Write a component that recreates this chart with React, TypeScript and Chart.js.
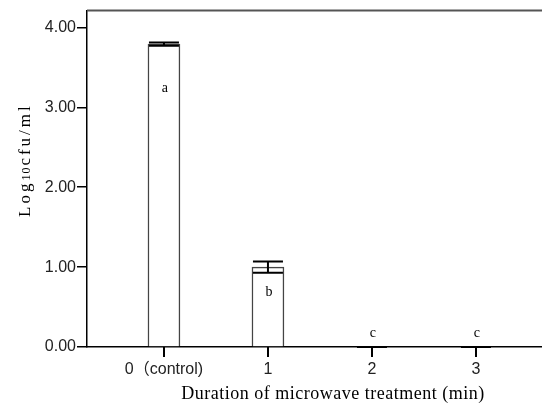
import React, { useEffect, useRef } from 'react';
import { Chart, registerables } from 'chart.js';
Chart.register(...registerables);

const categories = ['0（control)', '1', '2', '3'];
const means = [3.79, 1.0, 0, 0];
const errors = [0.02, 0.07, 0, 0];
const letters = ['a', 'b', 'c', 'c'];
const letterValues = [3.24, 0.69, 0.17, 0.17];
const yTicks = [0, 1, 2, 3, 4];
const xTitle = 'Duration of microwave treatment (min)';
const yTitleParts = ['Log', '10', 'cfu/ml'];

const SANS = '"Liberation Sans", Arial, "Noto Sans CJK SC", sans-serif';
const SERIF = '"Liberation Serif", "Times New Roman", serif';

const decorPlugin = {
  id: 'decor',
  afterDraw(chart: any) {
    const ctx = chart.ctx as CanvasRenderingContext2D;
    const { chartArea } = chart;
    const xs = chart.scales.x;
    const ys = chart.scales.y;
    ctx.save();
    // top frame line
    ctx.strokeStyle = '#555';
    ctx.lineWidth = 2;
    ctx.beginPath();
    ctx.moveTo(chartArea.left, chartArea.top);
    ctx.lineTo(chartArea.right, chartArea.top);
    ctx.stroke();

    // x tick marks
    const y0 = ys.getPixelForValue(0);
    ctx.fillStyle = '#000';
    categories.forEach((_, i) => {
      const x = Math.round(xs.getPixelForValue(i));
      ctx.fillRect(x - 1, y0, 2, 10);
    });

    // error bars
    ctx.strokeStyle = '#000';
    ctx.lineWidth = 2;
    const capHalf = 15;
    means.forEach((m, i) => {
      const x = xs.getPixelForValue(i);
      const yHi = ys.getPixelForValue(m + errors[i]);
      const yLo = ys.getPixelForValue(Math.max(0, m - errors[i]));
      ctx.beginPath();
      ctx.moveTo(x, yHi);
      ctx.lineTo(x, yLo);
      ctx.moveTo(x - capHalf, yHi);
      ctx.lineTo(x + capHalf, yHi);
      ctx.moveTo(x - capHalf, yLo);
      ctx.lineTo(x + capHalf, yLo);
      ctx.stroke();
    });

    // significance letters
    ctx.fillStyle = '#000';
    ctx.font = `14px ${SERIF}`;
    ctx.textAlign = 'center';
    ctx.textBaseline = 'middle';
    letters.forEach((l, i) => {
      ctx.fillText(l, xs.getPixelForValue(i) + 1, ys.getPixelForValue(letterValues[i]));
    });

    // x title
    (ctx as any).letterSpacing = '0.5px';
    ctx.font = `18px ${SERIF}`;
    ctx.textAlign = 'center';
    ctx.textBaseline = 'alphabetic';
    ctx.fillText(xTitle, 333, 399);

    // y title (rotated, with small "10")
    ctx.translate(30, 217);
    ctx.rotate(-Math.PI / 2);
    ctx.textAlign = 'left';
    (ctx as any).letterSpacing = '3px';
    let cx = 0;
    ctx.font = `17px ${SERIF}`;
    ctx.fillText(yTitleParts[0], cx, 0);
    cx += ctx.measureText(yTitleParts[0]).width;
    ctx.font = `12px ${SERIF}`;
    (ctx as any).letterSpacing = '1px';
    ctx.fillText(yTitleParts[1], cx, 0);
    cx += ctx.measureText(yTitleParts[1]).width + 1;
    ctx.font = `17px ${SERIF}`;
    (ctx as any).letterSpacing = '3px';
    ctx.fillText(yTitleParts[2], cx, 0);
    ctx.restore();
  },
};

export default function App() {
  const ref = useRef<HTMLCanvasElement>(null);
  useEffect(() => {
    const chart = new Chart(ref.current!, {
      type: 'bar',
      data: {
        datasets: [
          {
            data: means.map((y, i) => ({ x: i, y })),
            backgroundColor: '#ffffff',
            borderColor: '#444',
            borderWidth: 1.5,
            barThickness: 32,
          },
        ],
      },
      options: {
        animation: false,
        responsive: true,
        maintainAspectRatio: false,
        layout: { padding: { top: 7, left: 0, right: 0, bottom: 0 } },
        plugins: { legend: { display: false }, tooltip: { enabled: false } },
        scales: {
          x: {
            type: 'linear',
            offset: false,
            min: -0.74,
            max: 3.635,
            afterBuildTicks: (s: any) => {
              s.ticks = categories.map((_, i) => ({ value: i }));
            },
            afterFit: (s: any) => {
              s.height = 60;
            },
            ticks: {
              callback: (_v: any, i: number) => categories[i] ?? '',
              font: { family: SANS, size: 16 },
              color: '#222',
              autoSkip: false,
              maxRotation: 0,
              padding: 13,
            },
            grid: { display: true, drawOnChartArea: false, drawTicks: false, color: '#000', lineWidth: 1.5 },
            border: { color: '#000', width: 1.5 },
          },
          y: {
            min: 0,
            max: 4.21,
            afterBuildTicks: (s: any) => {
              s.ticks = yTicks.map((v) => ({ value: v }));
            },
            afterFit: (s: any) => {
              s.width = 87;
            },
            ticks: {
              callback: (v: any) => Number(v).toFixed(2),
              font: { family: SANS, size: 16 },
              color: '#222',
              padding: 1,
            },
            grid: { drawOnChartArea: false, drawTicks: true, tickLength: 10, color: '#000', lineWidth: 1.5 },
            border: { color: '#000', width: 1.5 },
          },
        },
      },
      plugins: [decorPlugin],
    });
    return () => chart.destroy();
  }, []);
  return (
    <div style={{ position: 'fixed', left: 0, top: 0, width: 542, height: 407, background: '#fff' }}>
      <canvas ref={ref} />
    </div>
  );
}
